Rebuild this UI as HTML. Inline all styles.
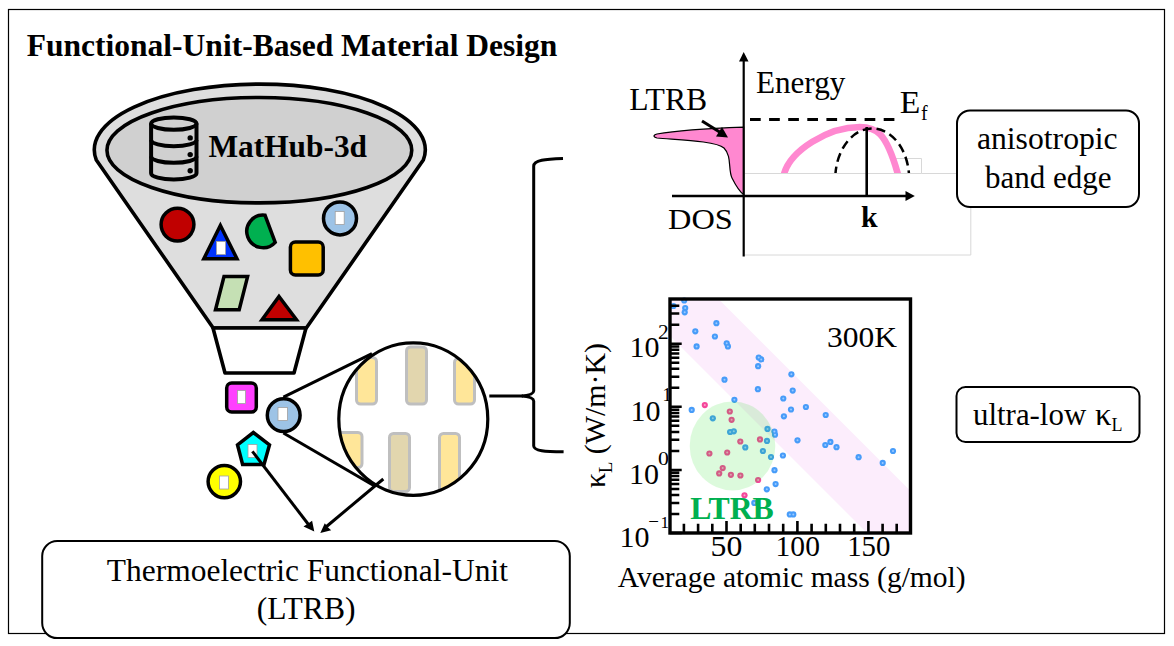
<!DOCTYPE html>
<html><head><meta charset="utf-8"><style>
html,body{margin:0;padding:0;background:#fff;width:1174px;height:646px;overflow:hidden}
svg{display:block}
text{font-family:"Liberation Serif",serif}
</style></head><body>
<svg width="1174" height="646" viewBox="0 0 1174 646">
<rect x="8.5" y="9.5" width="1156" height="624" fill="none" stroke="#000" stroke-width="1.2"/>
<text x="26.7" y="55.7" font-size="31.5" font-weight="bold" textLength="530.7" lengthAdjust="spacingAndGlyphs">Functional-Unit-Based Material Design</text>

<!-- funnel -->
<path d="M96.3 160 A165.5 65.7 0 1 1 423.3 160 L306.3 328 L213.2 328 Z" fill="#dedede" stroke="#000" stroke-width="3.6" stroke-linejoin="round"/>
<ellipse cx="259.35" cy="150.2" rx="152.4" ry="52.7" fill="#d0d0d0" stroke="#000" stroke-width="3.6"/>
<path d="M213 328 L306 328 L294 373 L225 373 Z" fill="#fff" stroke="#000" stroke-width="3.6" stroke-linejoin="round"/>
<g fill="none" stroke="#000" stroke-width="4">
<ellipse cx="173.8" cy="123.6" rx="22.7" ry="6.2"/>
<path d="M151.1 123.6 V173.3 A22.7 6.2 0 0 0 196.5 173.3 V123.6"/>
<path d="M151.1 140 A22.7 6.2 0 0 0 196.5 140 M151.1 156.6 A22.7 6.2 0 0 0 196.5 156.6"/>
</g>
<g fill="#000"><circle cx="190.2" cy="137.9" r="2.7"/><circle cx="190.2" cy="154.6" r="2.7"/><circle cx="190.2" cy="170.7" r="2.7"/></g>
<text x="208.4" y="156.8" font-size="31.5" font-weight="bold" textLength="158.7" lengthAdjust="spacingAndGlyphs">MatHub-3d</text>

<g stroke="#000" stroke-width="3.5" stroke-linejoin="miter">
<circle cx="177.5" cy="224.6" r="16.4" fill="#c00000"/>
<path d="M220.4 225.5 L237 258.8 L203.8 258.8 Z" fill="#0033ff"/>
<path d="M265 215.2 A16.3 16.3 0 1 0 275.2 242.3 Z" fill="#00b050"/>
<circle cx="340" cy="218.4" r="16.5" fill="#9dc3e6"/>
<rect x="290.4" y="241.9" width="32.8" height="33" rx="5" fill="#ffc000"/>
<path d="M224 276.6 L247.6 276.6 L239.2 309.7 L215.5 309.7 Z" fill="#c5e0b4"/>
<path d="M279 296.5 L296.5 319.8 L262 319.8 Z" fill="#c00000"/>
</g>
<g fill="#fff" stroke="#a0a0a0" stroke-width="0.8">
<rect x="216.5" y="241.5" width="9" height="13"/>
<rect x="335.2" y="211.5" width="9" height="13"/>
</g>

<defs><clipPath id="mag"><ellipse cx="413.3" cy="419.1" rx="74.5" ry="76.2"/></clipPath></defs>
<g clip-path="url(#mag)" stroke="#bfbfbf" stroke-width="3">
<rect x="356.5" y="357.5" width="20" height="46.5" rx="4" fill="#ffe699"/>
<rect x="406.5" y="347" width="20" height="57" rx="4" fill="#e2d6ae"/>
<rect x="454.5" y="358.5" width="20" height="45.5" rx="4" fill="#ffe699"/>
<rect x="320" y="432.5" width="42" height="35" rx="4" fill="#ffe699"/>
<rect x="389.5" y="433.5" width="20" height="58" rx="4" fill="#e2d6ae"/>
<rect x="439.5" y="433.5" width="20" height="70" rx="4" fill="#ffe699"/>
</g>
<ellipse cx="413.3" cy="419.1" rx="74.5" ry="76.2" fill="none" stroke="#000" stroke-width="3.2"/>
<g stroke="#000" stroke-width="3" fill="none">
<path d="M283.4 397.1 L372 353.7"/>
<path d="M283.4 433 L375 486.3"/>
</g>
<g stroke="#000" stroke-width="3.5">
<rect x="226.7" y="383.1" width="29.6" height="29" rx="5" fill="#ff40ff"/>
<circle cx="283.7" cy="415.2" r="16.4" fill="#9dc3e6"/>
<path d="M253.3 432.5 L269.5 444.8 L264 464.5 L242.6 464.5 L237.5 444.8 Z" fill="#00ffff"/>
<circle cx="224.3" cy="481.6" r="16.2" fill="#ffff00"/>
</g>
<g fill="#fff" stroke="#a0a0a0" stroke-width="0.8">
<rect x="237.5" y="390.5" width="8" height="13"/>
<rect x="278" y="407.5" width="9.5" height="13"/>
<rect x="248" y="444.5" width="9" height="13"/>
<rect x="219.5" y="476" width="9" height="13"/>
</g>
<g stroke="#000" stroke-width="3" fill="#000">
<path d="M252.4 451.4 L308.5 524.5" fill="none"/>
<path d="M314.3 531.6 L303.5 526.4 L308.2 523.6 L312.1 520.8 Z" stroke="none"/>
<path d="M383.3 479 L326.5 526.5" fill="none"/>
<path d="M320.3 533.1 L324.8 523.2 L327.8 527.2 L331.2 530.3 Z" stroke="none"/>
</g>
<rect x="42.2" y="541.1" width="527.6" height="97" rx="15" fill="#fff" stroke="#000" stroke-width="2"/>
<text x="106.8" y="580.7" font-size="31" textLength="401.1" lengthAdjust="spacingAndGlyphs">Thermoelectric Functional-Unit</text>
<text x="256.7" y="618.8" font-size="31" textLength="98.8" lengthAdjust="spacingAndGlyphs">(LTRB)</text>

<path d="M563 158.4 C545 159 534 160 533.7 166 V391 C533.5 394.5 528 395.5 521.8 396 C528 396.5 533.5 397.5 533.7 401 V446 C534 451 545 451.5 563.6 451.8" fill="none" stroke="#000" stroke-width="3"/>
<path d="M489.3 396 H523" stroke="#000" stroke-width="3"/>

<!-- band diagram -->
<g fill="none" stroke="#d8d8d8" stroke-width="1">
<path d="M745 173.5 H921.5 V158.5 H896 M921.5 173.5 H957 M745 255 H970.8 V207"/>
</g>
<path d="M743.7 127.1 C720 128 680 130 657 134 C653 135 653 137 657 138 C680 140 716 141 724 148 C732 156 728 170 732 178 C736 186 740 192 743.7 194.6 Z" fill="#ff88d0" stroke="#000" stroke-width="1.2"/>
<defs><clipPath id="bandclip"><rect x="745" y="100" width="200" height="73"/></clipPath></defs>
<g clip-path="url(#bandclip)">
<path d="M782.8 178.2 L784.2 173.4 C790.8 151.0 827.5 127.0 859.8 127.0 C875.9 127.0 885.9 131.9 897.6 173.2 L899 178" fill="none" stroke="#ff88d0" stroke-width="6.6"/>
<ellipse cx="872.2" cy="178.5" rx="36.9" ry="50" fill="none" stroke="#000" stroke-width="2.5" stroke-dasharray="9 5"/>
</g>
<path d="M750 119.5 H894.5" stroke="#000" stroke-width="2.8" stroke-dasharray="10.7 8.4"/>
<path d="M866.7 127 V196" stroke="#000" stroke-width="2.6"/>
<path d="M743.7 256.5 V60" stroke="#000" stroke-width="2.2"/>
<path d="M743.7 52 L748.5 61.5 L739 61.5 Z" fill="#000"/>
<path d="M672 196 H906" stroke="#000" stroke-width="2.6"/>
<path d="M914.8 196 L905.5 191 L905.5 201 Z" fill="#000"/>
<path d="M702 121 L722 133.5" stroke="#000" stroke-width="3"/>
<path d="M728 137.5 L716 136.5 L722 127 Z" fill="#000"/>
<text x="629.2" y="109.6" font-size="30.5" textLength="78" lengthAdjust="spacingAndGlyphs">LTRB</text>
<text x="755.9" y="92.9" font-size="31.2" textLength="89.4" lengthAdjust="spacingAndGlyphs">Energy</text>
<text x="899.7" y="112.9" font-size="31.4" textLength="20.6" lengthAdjust="spacingAndGlyphs">E</text>
<text x="921" y="119.7" font-size="20">f</text>
<text x="668.1" y="228.8" font-size="29.5" textLength="64.7" lengthAdjust="spacingAndGlyphs">DOS</text>
<text x="861" y="227" font-size="29.5" font-weight="bold" textLength="16.6" lengthAdjust="spacingAndGlyphs">k</text>

<rect x="957" y="110.5" width="182" height="96.5" rx="13" fill="#fff" stroke="#000" stroke-width="2"/>
<text x="976.9" y="149.3" font-size="31" textLength="140.8" lengthAdjust="spacingAndGlyphs">anisotropic</text>
<text x="985" y="187.5" font-size="31" textLength="126.6" lengthAdjust="spacingAndGlyphs">band edge</text>
<rect x="956.5" y="387" width="183" height="55" rx="9" fill="#fff" stroke="#000" stroke-width="2"/>
<text x="973" y="424.7" font-size="31" textLength="113.2" lengthAdjust="spacingAndGlyphs">ultra-low</text>
<text x="1095" y="424.7" font-size="31" textLength="16.5" lengthAdjust="spacingAndGlyphs">κ</text>
<text x="1111.5" y="430.5" font-size="18">L</text>

<!-- chart -->
<path d="M670 299 H718.5 L910 490.5 V533 H867 L670 336 Z" fill="#fcedfc"/>
<g fill="#479cf9"><circle cx="684.2" cy="300.5" r="3.1"/><circle cx="673.5" cy="306" r="3.1"/><circle cx="685.2" cy="308" r="3.1"/><circle cx="684.7" cy="312.3" r="3.1"/><circle cx="716.4" cy="323.2" r="3.1"/><circle cx="695.3" cy="331.3" r="3.1"/><circle cx="714.9" cy="336.5" r="3.1"/><circle cx="696.6" cy="346.4" r="3.1"/><circle cx="726.7" cy="343.3" r="3.1"/><circle cx="727.9" cy="346.4" r="3.1"/><circle cx="758.7" cy="357.5" r="3.1"/><circle cx="761.2" cy="359.4" r="3.1"/><circle cx="758.1" cy="366.2" r="3.1"/><circle cx="791.4" cy="374.3" r="3.1"/><circle cx="724.5" cy="379.7" r="3.1"/><circle cx="757.9" cy="389.2" r="3.1"/><circle cx="792.7" cy="390.6" r="3.1"/><circle cx="783.3" cy="398.5" r="3.1"/><circle cx="734.4" cy="399.8" r="3.1"/><circle cx="691.7" cy="409.9" r="3.1"/><circle cx="805.9" cy="407" r="3.1"/><circle cx="791" cy="409.5" r="3.1"/><circle cx="783.9" cy="416.3" r="3.1"/><circle cx="825.7" cy="415" r="3.1"/><circle cx="712.8" cy="418.3" r="3.1"/><circle cx="730.1" cy="432" r="3.1"/><circle cx="733.8" cy="431.3" r="3.1"/><circle cx="767.5" cy="428.9" r="3.1"/><circle cx="774.4" cy="431.6" r="3.1"/><circle cx="775" cy="434.7" r="3.1"/><circle cx="797.5" cy="440.3" r="3.1"/><circle cx="825.3" cy="445" r="3.1"/><circle cx="830.4" cy="441.9" r="3.1"/><circle cx="836.5" cy="447.2" r="3.1"/><circle cx="767" cy="440.9" r="3.1"/><circle cx="745.3" cy="447.4" r="3.1"/><circle cx="762.9" cy="451" r="3.1"/><circle cx="771" cy="457" r="3.1"/><circle cx="782.9" cy="455.5" r="3.1"/><circle cx="858.6" cy="457.2" r="3.1"/><circle cx="893" cy="451" r="3.1"/><circle cx="882.7" cy="462.9" r="3.1"/><circle cx="774.5" cy="470.2" r="3.1"/><circle cx="775.6" cy="484.1" r="3.1"/><circle cx="766.8" cy="489.3" r="3.1"/><circle cx="754.3" cy="502.9" r="3.1"/><circle cx="789.8" cy="514.4" r="3.1"/><circle cx="793.3" cy="514.4" r="3.1"/></g><g fill="#9ccaff"><circle cx="684.2" cy="300.5" r="1"/><circle cx="673.5" cy="306" r="1"/><circle cx="685.2" cy="308" r="1"/><circle cx="684.7" cy="312.3" r="1"/><circle cx="716.4" cy="323.2" r="1"/><circle cx="695.3" cy="331.3" r="1"/><circle cx="714.9" cy="336.5" r="1"/><circle cx="696.6" cy="346.4" r="1"/><circle cx="726.7" cy="343.3" r="1"/><circle cx="727.9" cy="346.4" r="1"/><circle cx="758.7" cy="357.5" r="1"/><circle cx="761.2" cy="359.4" r="1"/><circle cx="758.1" cy="366.2" r="1"/><circle cx="791.4" cy="374.3" r="1"/><circle cx="724.5" cy="379.7" r="1"/><circle cx="757.9" cy="389.2" r="1"/><circle cx="792.7" cy="390.6" r="1"/><circle cx="783.3" cy="398.5" r="1"/><circle cx="734.4" cy="399.8" r="1"/><circle cx="691.7" cy="409.9" r="1"/><circle cx="805.9" cy="407" r="1"/><circle cx="791" cy="409.5" r="1"/><circle cx="783.9" cy="416.3" r="1"/><circle cx="825.7" cy="415" r="1"/><circle cx="712.8" cy="418.3" r="1"/><circle cx="730.1" cy="432" r="1"/><circle cx="733.8" cy="431.3" r="1"/><circle cx="767.5" cy="428.9" r="1"/><circle cx="774.4" cy="431.6" r="1"/><circle cx="775" cy="434.7" r="1"/><circle cx="797.5" cy="440.3" r="1"/><circle cx="825.3" cy="445" r="1"/><circle cx="830.4" cy="441.9" r="1"/><circle cx="836.5" cy="447.2" r="1"/><circle cx="767" cy="440.9" r="1"/><circle cx="745.3" cy="447.4" r="1"/><circle cx="762.9" cy="451" r="1"/><circle cx="771" cy="457" r="1"/><circle cx="782.9" cy="455.5" r="1"/><circle cx="858.6" cy="457.2" r="1"/><circle cx="893" cy="451" r="1"/><circle cx="882.7" cy="462.9" r="1"/><circle cx="774.5" cy="470.2" r="1"/><circle cx="775.6" cy="484.1" r="1"/><circle cx="766.8" cy="489.3" r="1"/><circle cx="754.3" cy="502.9" r="1"/><circle cx="789.8" cy="514.4" r="1"/><circle cx="793.3" cy="514.4" r="1"/></g>
<g fill="#f5479b"><circle cx="704.8" cy="405.1" r="3.1"/><circle cx="729.8" cy="411.5" r="3.1"/><circle cx="731.6" cy="419.8" r="3.1"/><circle cx="740.3" cy="441.5" r="3.1"/><circle cx="760" cy="439.4" r="3.1"/><circle cx="709.4" cy="453.5" r="3.1"/><circle cx="727.2" cy="452.5" r="3.1"/><circle cx="722.7" cy="468.1" r="3.1"/><circle cx="719.2" cy="473.4" r="3.1"/><circle cx="730.9" cy="474.8" r="3.1"/><circle cx="740.4" cy="475.5" r="3.1"/><circle cx="758.1" cy="480" r="3.1"/><circle cx="744.5" cy="495.3" r="3.1"/></g><g fill="#f9a5c9"><circle cx="704.8" cy="405.1" r="1"/><circle cx="729.8" cy="411.5" r="1"/><circle cx="731.6" cy="419.8" r="1"/><circle cx="740.3" cy="441.5" r="1"/><circle cx="760" cy="439.4" r="1"/><circle cx="709.4" cy="453.5" r="1"/><circle cx="727.2" cy="452.5" r="1"/><circle cx="722.7" cy="468.1" r="1"/><circle cx="719.2" cy="473.4" r="1"/><circle cx="730.9" cy="474.8" r="1"/><circle cx="740.4" cy="475.5" r="1"/><circle cx="758.1" cy="480" r="1"/><circle cx="744.5" cy="495.3" r="1"/></g>
<ellipse cx="732.5" cy="445.9" rx="42.8" ry="44.5" fill="rgb(0,219,0)" fill-opacity="0.137"/>
<path d="M670 533.0h11.7M670 514.0h9.3M670 502.9h9.3M670 495.0h9.3M670 488.9h9.3M670 483.9h9.3M670 479.7h9.3M670 476.0h9.3M670 472.8h9.3M670 469.9h11.7M670 450.9h9.3M670 439.8h9.3M670 431.9h9.3M670 425.8h9.3M670 420.8h9.3M670 416.6h9.3M670 412.9h9.3M670 409.7h9.3M670 406.8h11.7M670 387.8h9.3M670 376.7h9.3M670 368.8h9.3M670 362.7h9.3M670 357.7h9.3M670 353.5h9.3M670 349.8h9.3M670 346.6h9.3M670 343.7h11.7M670 324.7h9.3M670 313.6h9.3M670 305.7h9.3" stroke="#000" stroke-width="2.5"/>
<path d="M683.9 533v-9.2M698.1 533v-9.2M712.3 533v-9.2M726.5 533v-12M740.7 533v-9.2M754.8 533v-9.2M769.0 533v-9.2M783.2 533v-9.2M797.4 533v-12M811.6 533v-9.2M825.8 533v-9.2M840.0 533v-9.2M854.2 533v-9.2M868.4 533v-12M882.6 533v-9.2M896.7 533v-9.2" stroke="#000" stroke-width="2.6"/>
<rect x="670" y="299" width="240.5" height="234" fill="none" stroke="#000" stroke-width="3.4"/>
<text x="827" y="346.8" font-size="30" textLength="70" lengthAdjust="spacingAndGlyphs">300K</text>
<text x="690.2" y="518.6" font-size="30.5" font-weight="bold" textLength="83.6" lengthAdjust="spacingAndGlyphs" fill="#00b050">LTRB</text>
<text x="629.4" y="357.2" font-size="30">10</text><text x="658" y="338.6" font-size="20" textLength="10.7" lengthAdjust="spacingAndGlyphs">2</text>
<text x="630.6" y="420.6" font-size="30">10</text><text x="662.5" y="401.2" font-size="18">1</text>
<text x="629" y="484" font-size="30">10</text><text x="658" y="465.4" font-size="19" textLength="10.9" lengthAdjust="spacingAndGlyphs">0</text>
<text x="619.4" y="546.8" font-size="30">10</text><text x="648.3" y="528.2" font-size="19">−</text><text x="660.6" y="528.2" font-size="17">1</text>
<text x="710.6" y="555.6" font-size="30" textLength="31.8" lengthAdjust="spacingAndGlyphs">50</text>
<text x="775.6" y="555.6" font-size="30" textLength="44.3" lengthAdjust="spacingAndGlyphs">100</text>
<text x="847.2" y="555.6" font-size="30" textLength="43.2" lengthAdjust="spacingAndGlyphs">150</text>
<text x="617.8" y="587.2" font-size="29.5" textLength="347.8" lengthAdjust="spacingAndGlyphs">Average atomic mass (g/mol)</text>
<g transform="translate(605.4 488) rotate(-90)">
<text x="0" y="0" font-size="29" textLength="145" lengthAdjust="spacingAndGlyphs">κ<tspan font-size="18" dy="7">L</tspan><tspan dy="-7"> (W/m·K)</tspan></text>
</g>
</svg>
</body></html>
